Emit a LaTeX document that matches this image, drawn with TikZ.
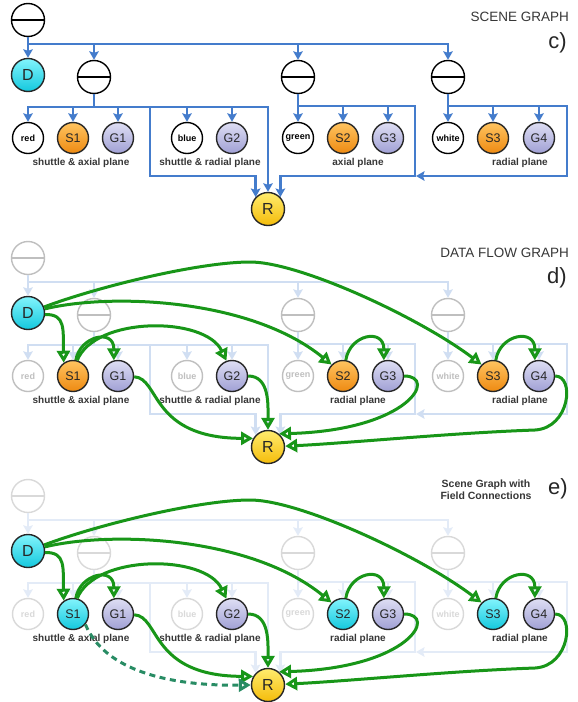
\documentclass[tikz,border=0pt]{standalone}
\usepackage{fontspec}
\setmainfont{Liberation Sans}
\usetikzlibrary{arrows.meta}

\definecolor{wireblue}{RGB}{68,124,204}
\definecolor{flowgreen}{RGB}{24,150,24}
\definecolor{fieldgreen}{RGB}{40,140,100}
\definecolor{orangetop}{RGB}{255,196,96}
\definecolor{orangebot}{RGB}{238,138,18}
\definecolor{lilactop}{RGB}{222,222,244}
\definecolor{lilacbot}{RGB}{160,160,212}
\definecolor{cyantop}{RGB}{130,244,252}
\definecolor{cyanbot}{RGB}{20,200,222}
\definecolor{yellowtop}{RGB}{255,236,110}
\definecolor{yellowbot}{RGB}{244,188,10}
\definecolor{inkgray}{RGB}{55,55,55}

\tikzset{
  grp/.style={circle,draw=black!#1,fill=white,line width=1.4pt,minimum size=33pt,inner sep=0pt,
    path picture={\draw[black!#1,line width=1.3pt] (path picture bounding box.west) -- (path picture bounding box.east);}},
  grp/.default=100,
  leaf/.style={circle,draw=black!#1,fill=white,text=black!#1,line width=1.4pt,minimum size=31pt,inner sep=0pt,
    font=\fontsize{9}{9}\selectfont\bfseries},
  ball/.style={circle,draw=black!85,line width=1.4pt,minimum size=31pt,inner sep=0pt,text=black!85,
    font=\fontsize{12.5}{12.5}\selectfont},
  big/.style={minimum size=33pt,font=\fontsize{16}{16}\selectfont},
  orangeball/.style={ball,top color=orangetop,bottom color=orangebot},
  lilacball/.style={ball,top color=lilactop,bottom color=lilacbot},
  cyanball/.style={ball,top color=cyantop,bottom color=cyanbot},
  yellowball/.style={ball,big,top color=yellowtop,bottom color=yellowbot},
  plane/.style={font=\fontsize{10}{10}\selectfont\bfseries,text=inkgray,inner sep=0pt},
  wire/.style={draw=wireblue!#1,line width=2.8pt,-{Stealth[length=8.5pt,width=9.5pt,inset=1.5pt]}},
  flow/.style={draw=flowgreen,line width=3pt,-{Triangle[open,length=12pt,width=13pt]}},
  field/.style={flow,draw=fieldgreen,dash pattern=on 6pt off 4.5pt},
  title/.style={font=\fontsize{13.5}{13.5}\selectfont,text=inkgray,inner sep=0pt,anchor=base east},
  tag/.style={font=\fontsize{22}{22}\selectfont,text=black!85,inner sep=0pt,anchor=base east}
}

% one scene graph: #1 fading, #2 style of S nodes, #3 label of the third group
\newcommand{\scenegraph}[3]{%
  \node[grp=#1] (g0) at (28,20) {};
  \node[cyanball,big] (D) at (28,75) {D};
  \node[grp=#1] (g1) at (94,77) {};
  \node[grp=#1] (g2) at (298,77) {};
  \node[grp=#1] (g3) at (448,77) {};
  \node[leaf=#1] (red) at (28,138) {red};
  \node[#2] (S1) at (73,138) {S1};
  \node[lilacball] (G1) at (118,138) {G1};
  \node[leaf=#1] (blue) at (187,138) {blue};
  \node[lilacball] (G2) at (232,138) {G2};
  \node[leaf=#1] (green) at (298,138) {green};
  \node[#2] (S2) at (343,138) {S2};
  \node[lilacball] (G3) at (388,138) {G3};
  \node[leaf=#1] (white) at (448,138) {white};
  \node[#2] (S3) at (493,138) {S3};
  \node[lilacball] (G4) at (539,138) {G4};
  \node[yellowball] (R) at (268,209) {R};
  \node[plane] (p1) at (81,163) {shuttle \& axial plane};
  \node[plane] (p2) at (210,163) {shuttle \& radial plane};
  \node[plane] (p3) at (358,163) {#3};
  \node[plane] (p4) at (520,163) {radial plane};
  \coordinate (bus0) at (28,44);
  \coordinate (bus1) at (94,107);
  \coordinate (bus2) at (298,106);
  \coordinate (bus3) at (448,106);
  \coordinate (loop1) at (150,176);
  \coordinate (loop2) at (415,176);
  \coordinate (loop3) at (567,176);
  \draw[wire=#1] (g0) -- (D);
  \draw[wire=#1] (bus0) -| (g3);
  \draw[wire=#1] (bus0 -| g1) -- (g1);
  \draw[wire=#1] (bus0 -| g2) -- (g2);
  \draw[wire=#1] (g1) -- (bus1) -| (red);
  \draw[wire=#1] (bus1) -| (R);
  \foreach \n in {S1,G1,blue,G2} \draw[wire=#1] (bus1 -| \n) -- (\n);
  \draw[wire=#1] (bus1 -| loop1) -- (loop1) -| (R.136);
  \draw[wire=#1] (g2) -- (green);
  \draw[wire=#1] (bus2) -| (loop2) -| (R.44);
  \foreach \n in {S2,G3} \draw[wire=#1] (bus2 -| \n) -- (\n);
  \draw[wire=#1] (g3) -- (white);
  \draw[wire=#1,shorten >=1pt] (bus3) -| (loop3) -- (loop2);
  \foreach \n in {S3,G4} \draw[wire=#1] (bus3 -| \n) -- (\n);
}

\newcommand{\flowarrows}{%
  \draw[flow] (D.-5) .. controls (66,76) and (63,92) .. (S1.125);
  \draw[flow] (D) .. controls (110,55) and (250,60) .. (S2.135);
  \draw[flow] (D) .. controls (100,48) and (200,24) .. (250,24) .. controls (300,24) and (420,80) .. (S3.135);
  \draw[flow] (S1.80) .. controls (80,98) and (114,90) .. (G1.105);
  \draw[flow] (S1.75) .. controls (95,78) and (205,78) .. (G2.110);
  \draw[flow] (S2.80) .. controls (350,96) and (384,90) .. (G3.105);
  \draw[flow] (S3.80) .. controls (500,96) and (535,90) .. (G4.105);
  \draw[flow] (G1) .. controls (160,140) and (150,200) .. (R.150);
  \draw[flow] (G2) .. controls (270,138) and (268,168) .. (R);
  \draw[flow] (G3) .. controls (438,138) and (410,192) .. (R.50);
  \draw[flow] (G4) .. controls (575,138) and (570,190) .. (535,192) .. controls (450,195) and (350,205) .. (R);
}

\begin{document}
\begin{tikzpicture}[x=1pt, y=-1pt]
\fill[white] (0,0) rectangle (578,702);
\useasboundingbox (0,0) rectangle (578,702);

\begin{scope}[name prefix=c-]
  \scenegraph{100}{orangeball}{axial plane}
\end{scope}

\begin{scope}[shift={(0,238)}, name prefix=d-]
  \scenegraph{25}{orangeball}{radial plane}
  \flowarrows
\end{scope}

\begin{scope}[shift={(0,476)}, name prefix=e-]
  \scenegraph{15}{cyanball}{radial plane}
  \flowarrows
  \draw[field] (S1.-40) .. controls (105,195) and (170,210) .. (R.west);
\end{scope}

\node[title] (t1) at (569,21) {SCENE GRAPH};
\node[tag] (c) at (567,48) {c)};
\node[title] (t2) at (569,257) {DATA FLOW GRAPH};
\node[tag] (d) at (567,283) {d)};
\node[font=\fontsize{10.5}{12}\selectfont\bfseries, text=inkgray, align=center, inner sep=0pt] (t3) at (486,490) {Scene Graph with\\Field Connections};
\node[tag] (e) at (568,494) {e)};
\end{tikzpicture}
\end{document}
